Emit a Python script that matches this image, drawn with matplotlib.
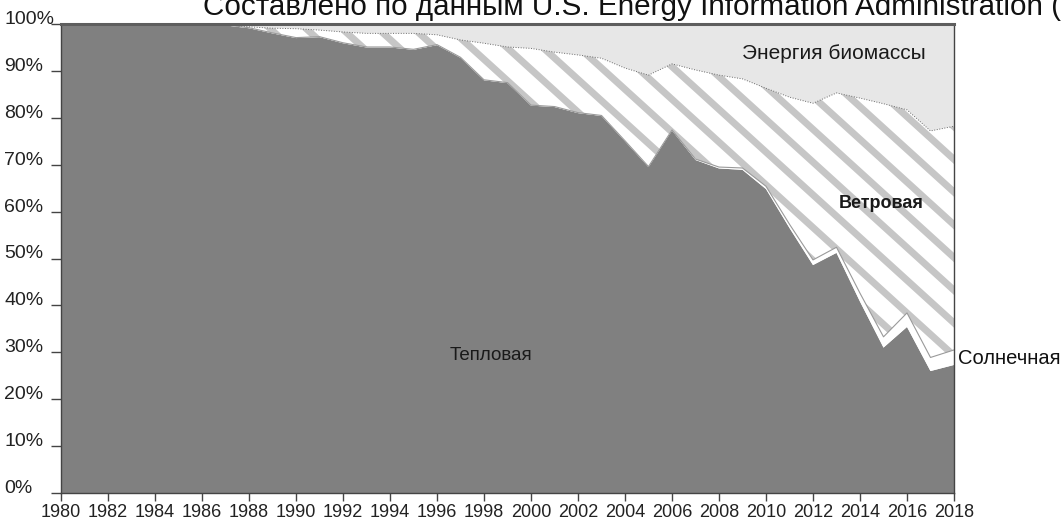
import numpy as np
import matplotlib
matplotlib.use('Agg')
import matplotlib.pyplot as plt
from matplotlib.collections import LineCollection

plt.rcParams['font.family'] = ['Liberation Sans', 'DejaVu Sans']

years = list(range(1980, 2019))
# shares, %
geothermal = [100, 100, 100, 100, 100, 100, 100, 99.7, 99.1, 98.0,
              97.0, 97.2, 95.9, 95.0, 95.0, 94.5, 95.5, 92.8, 88.0, 87.4,
              82.6, 82.3, 81.0, 80.4, 75.0, 69.5, 77.3, 71.0, 69.2, 68.9,
              64.8, 56.5, 48.6, 51.2, 40.8, 31.0, 35.4, 26.0, 27.3]
solar = [0, 0, 0, 0, 0, 0, 0, 0.1, 0.1, 0.1,
         0.1, 0.1, 0.1, 0.1, 0.1, 0.1, 0.1, 0.1, 0.1, 0.1,
         0.1, 0.1, 0.1, 0.1, 0.1, 0.1, 0.1, 0.2, 0.3, 0.4,
         0.6, 0.8, 1.1, 1.2, 1.8, 2.3, 3.0, 2.9, 3.2]
wind = [0, 0, 0, 0, 0, 0, 0, 0.1, 0.2, 1.0,
        1.9, 1.4, 2.3, 2.9, 2.9, 3.4, 2.1, 3.7, 7.8, 7.6,
        12.1, 11.6, 12.3, 12.2, 15.5, 19.5, 14.1, 19.0, 19.6, 19.0,
        20.9, 27.1, 33.4, 32.9, 41.6, 49.7, 43.3, 48.3, 47.7]
biomass = [0, 0, 0, 0, 0, 0, 0, 0.1, 0.6, 0.9,
           1.0, 1.3, 1.7, 2.0, 2.0, 2.0, 2.3, 3.4, 4.1, 4.9,
           5.2, 6.0, 6.6, 7.3, 9.4, 10.9, 8.5, 9.8, 10.9, 11.7,
           13.7, 15.6, 16.9, 14.7, 15.8, 17.0, 18.3, 22.8, 21.8]

x_ticks = list(range(1980, 2019, 2))
y_ticks = list(range(0, 101, 10))
title = 'Составлено по данным U.S. Energy Information Administration ('

y1 = np.array(geothermal, dtype=float)
y2 = y1 + np.array(solar)
y3 = y2 + np.array(wind)
y4 = y3 + np.array(biomass)

W, H = 1063, 519
fig = plt.figure(figsize=(W / 100, H / 100), dpi=100)
ax_l, ax_r, ax_t, ax_b = 61, 954, 24, 493
ax = fig.add_axes([ax_l / W, 1 - ax_b / H, (ax_r - ax_l) / W, (ax_b - ax_t) / H])

ax.fill_between(years, 0, y1, facecolor='#808080', lw=0, zorder=2)
ax.fill_between(years, y1, y2, facecolor='white', lw=0, zorder=2)
wind_poly = ax.fill_between(years, y2, y3, facecolor='white', lw=0, zorder=2)
ax.fill_between(years, y3, y4, facecolor='#e7e7e7', lw=0, zorder=2)

# diagonal stripes inside the wind area
pw, ph = ax_r - ax_l, ax_b - ax_t
period = 36
segs = []
for x0 in np.arange(-ph * 1.1 - period, pw + period, period):
    segs.append([(x0 / pw, 1.0), ((x0 + ph * 1.1) / pw, 0.0)])
lc = LineCollection(segs, colors='#c6c6c6', linewidths=5,
                    transform=ax.transAxes, zorder=2.5)
ax.add_collection(lc, autolim=False)
lc.set_clip_path(wind_poly.get_paths()[0], wind_poly.get_transform())

ax.plot(years, y2, color='#9a9a9a', lw=0.8, zorder=3)
ax.plot(years, y3, color='#6a6a6a', lw=0.7, ls=':', zorder=3)

ax.set_xlim(1980, 2018)
ax.set_ylim(0, 100)
ax.set_xticks(x_ticks)
ax.set_xticklabels([str(v) for v in x_ticks])
ax.set_yticks(y_ticks)
ax.set_yticklabels([f'{v}%' for v in y_ticks])

ax.tick_params(axis='y', direction='out', length=7, width=1, color='#444',
               labelsize=14, labelcolor='#222', pad=33.8)
for lbl in ax.get_yticklabels():
    lbl.set_ha('left')
    lbl.set_va('baseline')
ax.tick_params(axis='x', direction='out', length=6, width=1, color='#444',
               labelsize=13, labelcolor='#222', pad=2)

for side in ['left', 'right', 'bottom']:
    ax.spines[side].set_color('#444')
    ax.spines[side].set_linewidth(1.0)
    ax.spines[side].set_zorder(4)
ax.spines['top'].set_color('#5e5e5e')
ax.spines['top'].set_linewidth(2.2)
ax.spines['top'].set_zorder(4)

ax.text(2012.9, 93.8, 'Энергия биомассы', fontsize=15, color='#1a1a1a',
        ha='center', va='center', zorder=5)
ax.text(2014.9, 61.8, 'Ветровая', fontsize=13, fontweight='bold', color='#1a1a1a',
        ha='center', va='center', zorder=5)
ax.text(1998.3, 29.4, 'Тепловая', fontsize=13.5, color='#1a1a1a',
        ha='center', va='center', zorder=5)
ax.text(1.004, 28.6, 'Солнечная', fontsize=14.5, color='#111',
        ha='left', va='center', transform=ax.get_yaxis_transform(), zorder=5)

fig.text(203 / W, 1 - 15 / H, title, fontsize=21.3, color='#111',
         ha='left', va='baseline')

fig.savefig('out.png', dpi=100)
